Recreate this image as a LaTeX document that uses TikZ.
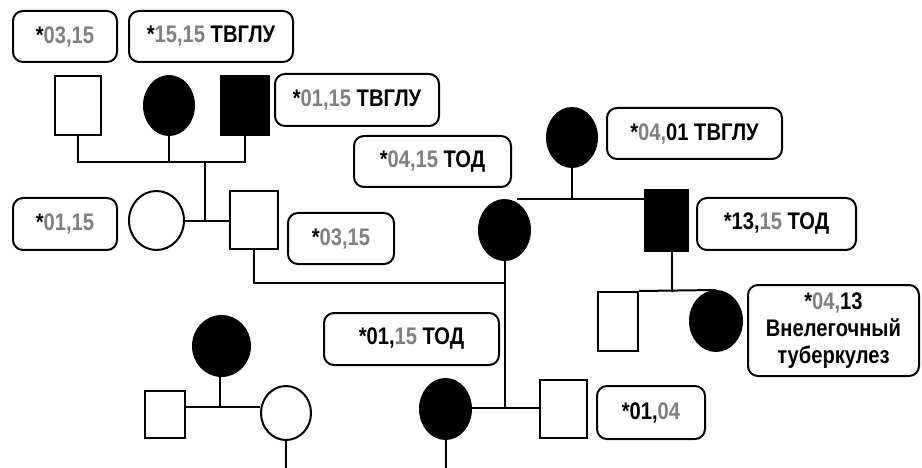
\documentclass[tikz,border=0pt]{standalone}
\usepackage{fontspec}
\setmainfont{Liberation Sans}[FakeStretch=0.84]
\usetikzlibrary{shapes.geometric}
\definecolor{gr}{RGB}{128,128,128}
\newcommand{\G}[1]{\textcolor{gr}{#1}}
\tikzset{
  lbl/.style={draw, line width=2pt, rounded corners=10pt, align=center, inner sep=0pt,
    font=\fontsize{24}{27}\selectfont\bfseries},
  sqw/.style={draw, line width=2pt, rectangle, inner sep=0pt, fill=white},
  sqb/.style={draw, line width=2pt, rectangle, inner sep=0pt, fill=black},
  elw/.style={draw, line width=2pt, ellipse, inner sep=0pt, fill=white},
  elb/.style={draw, line width=2pt, ellipse, inner sep=0pt, fill=black},
  ln/.style={line width=2pt}
}
\begin{document}
\begin{tikzpicture}[x=1pt,y=-1pt]
\useasboundingbox (0,0) rectangle (922,468);
% label boxes
\node[lbl, minimum width=104pt, minimum height=51pt] (b1) at (65,36.5) {*\G{03,15}};
\node[lbl, minimum width=164pt, minimum height=51pt] (b2) at (211,36.5) {*\G{15,15} ТВГЛУ};
\node[lbl, minimum width=164pt, minimum height=52pt] (b3) at (357,100) {*\G{01,15} ТВГЛУ};
\node[lbl, minimum width=157pt, minimum height=51pt] (b4) at (432.5,161.5) {*\G{04,15} ТОД};
\node[lbl, minimum width=175pt, minimum height=51pt] (b5) at (694.5,133.5) {*\G{04,}01 ТВГЛУ};
\node[lbl, minimum width=104pt, minimum height=52pt] (b6) at (65,224) {*\G{01,15}};
\node[lbl, minimum width=106pt, minimum height=51pt] (b7) at (341,238.5) {*\G{03,15}};
\node[lbl, minimum width=159pt, minimum height=52pt] (b8) at (776.5,224) {*13,\G{15} ТОД};
\node[lbl, minimum width=171pt, minimum height=91pt] (b9) at (833.5,330.5) {*\G{04,}13\\Внелегочный\\туберкулез};
\node[lbl, minimum width=175pt, minimum height=52pt] (b10) at (411.5,339) {*01,\G{15} ТОД};
\node[lbl, minimum width=108pt, minimum height=53pt] (b11) at (651,412.5) {*01,\G{04}};
% persons
\node[sqw, minimum width=46pt, minimum height=59pt] (sq1) at (78,105.5) {};
\node[elb, minimum width=50pt, minimum height=59pt] (c1) at (169,105.5) {};
\node[sqb, minimum width=48pt, minimum height=59pt] (sq2) at (245,105.5) {};
\node[elw, minimum width=55pt, minimum height=59pt] (c2) at (156.5,220.5) {};
\node[sqw, minimum width=48pt, minimum height=58pt] (sq3) at (254,220) {};
\node[elb, minimum width=50pt, minimum height=59pt] (c3) at (572,137.5) {};
\node[elb, minimum width=51pt, minimum height=60pt] (c4) at (504.5,230) {};
\node[sqb, minimum width=43pt, minimum height=61pt] (sq4) at (666.5,220.5) {};
\node[sqw, minimum width=40pt, minimum height=59pt] (sq5) at (618,321.5) {};
\node[elb, minimum width=52pt, minimum height=60pt] (c5) at (716,321) {};
\node[elb, minimum width=51pt, minimum height=60pt] (c6) at (445.5,409) {};
\node[sqw, minimum width=47pt, minimum height=58pt] (sq6) at (563.5,409) {};
\node[elb, minimum width=57pt, minimum height=60pt] (c7) at (221.5,346) {};
\node[sqw, minimum width=40pt, minimum height=47pt] (sq7) at (165,414.5) {};
\node[elw, minimum width=50pt, minimum height=54pt] (c8) at (286,413) {};
% junction coordinates
\coordinate (sib) at (205,162);
\coordinate (cp1) at (205,221);
\coordinate (j1) at (505,283);
\coordinate (cp3) at (505,408);
\coordinate (cp2) at (572,199);
\coordinate (l2a) at (517,199);
\coordinate (cp4) at (672,292);
\coordinate (cp5) at (220,407);
\coordinate (bot) at (0,470);
% connectors
\draw[ln] (sq1.south) |- (sib) -| (sq2.south);
\draw[ln] (c1.south) -- (c1.south |- sib);
\draw[ln] (sib) -- (cp1);
\draw[ln] (c2.east |- cp1) -- (sq3.west |- cp1);
\draw[ln] (sq3.south) |- (j1);
\draw[ln] (c4.south -| j1) -- (cp3);
\draw[ln] (c6.east |- cp3) -- (sq6.west |- cp3);
\draw[ln] (c6.south) -- (c6.south |- bot);
\draw[ln] (c3.south) -- (cp2);
\draw[ln] (l2a) -- (l2a -| sq4.west);
\draw[ln] (sq4.south -| cp4) -- (cp4);
\draw[ln] (sq5.north east) -- (c5.north);
\draw[ln] (c7.south -| cp5) -- (cp5);
\draw[ln] (sq7.east |- cp5) -- (c8.west |- cp5);
\draw[ln] (c8.south) -- (c8.south |- bot);
\end{tikzpicture}
\end{document}
